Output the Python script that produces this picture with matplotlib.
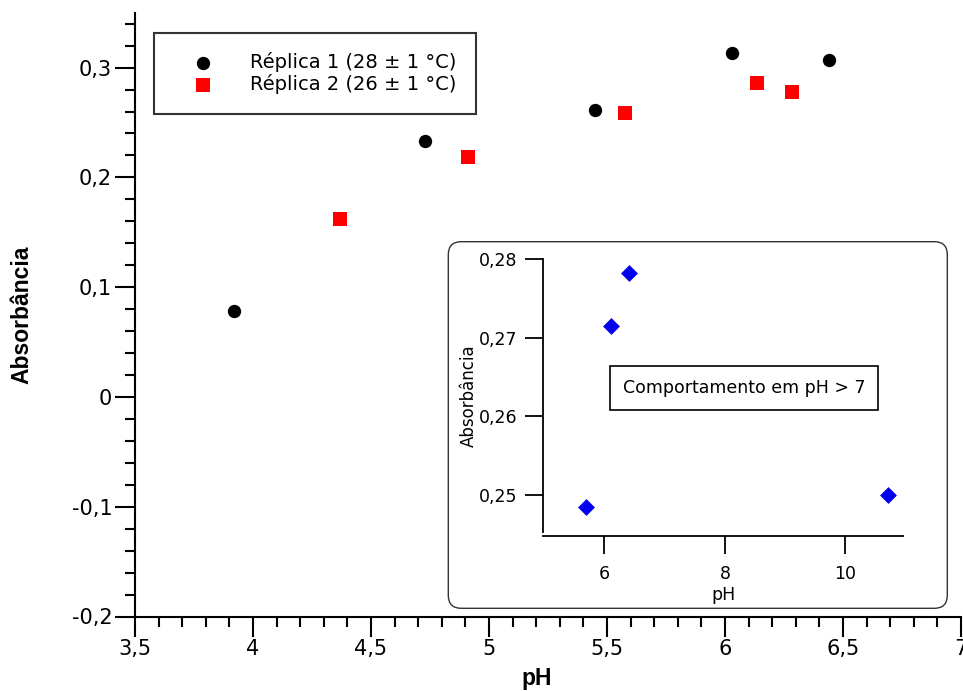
import matplotlib
matplotlib.use('Agg')
import matplotlib.pyplot as plt
from matplotlib.ticker import MultipleLocator, FuncFormatter
from matplotlib.patches import FancyBboxPatch

# main chart data
ph_rep1 = [3.919, 4.729, 5.449, 6.030, 6.441]
abs_rep1 = [0.078, 0.2334, 0.2615, 0.3134, 0.307]
ph_rep2 = [4.369, 4.911, 5.576, 6.136, 6.284]
abs_rep2 = [0.1625, 0.2188, 0.2588, 0.2861, 0.278]
label_rep1 = 'Réplica 1 (28 ± 1 °C)'
label_rep2 = 'Réplica 2 (26 ± 1 °C)'

# inset data (pH > 7)
ph_inset = [5.70, 6.105, 6.41, 10.71]
abs_inset = [0.2485, 0.2715, 0.2782, 0.2500]
inset_note = 'Comportamento em pH > 7'


def comma_fmt(v, pos):
    s = f'{round(v, 4):g}'
    return s.replace('.', ',')


plt.rcParams['font.family'] = ['DejaVu Sans']
bold_family = ['Liberation Sans', 'DejaVu Sans']

fig = plt.figure(figsize=(9.63, 6.91), dpi=100)

# main axes
ax = fig.add_axes([135 / 963, 1 - 616.5 / 691, 826 / 963, (616.5 - 12.7) / 691])
ax.scatter(ph_rep1, abs_rep1, s=9.6 ** 2, marker='o', color='black',
           label=label_rep1, zorder=3, linewidths=0)
ax.scatter(ph_rep2, abs_rep2, s=10.3 ** 2, marker='s', color='#ff0000',
           label=label_rep2, zorder=3, linewidths=0)
ax.set_xlim(3.5, 7.0)
ax.set_ylim(-0.2, 0.35)
for side in ['top', 'right']:
    ax.spines[side].set_visible(False)
for side in ['left', 'bottom']:
    ax.spines[side].set_linewidth(1.5)
ax.xaxis.set_major_locator(MultipleLocator(0.5))
ax.xaxis.set_minor_locator(MultipleLocator(0.1))
ax.yaxis.set_major_locator(MultipleLocator(0.1))
ax.yaxis.set_minor_locator(MultipleLocator(0.02))
ax.xaxis.set_major_formatter(FuncFormatter(comma_fmt))
ax.yaxis.set_major_formatter(FuncFormatter(comma_fmt))
ax.tick_params(which='major', length=14.4, width=1.5, labelsize=15, pad=2)
ax.tick_params(which='minor', length=7.2, width=1.5)
ax.patch.set_alpha(0)

leg = ax.legend(loc='upper left', bbox_to_anchor=(154 / 963, 1 - 33 / 691),
                bbox_transform=fig.transFigure, fontsize=14, frameon=True,
                fancybox=False, edgecolor='black', borderpad=1.0,
                handlelength=3.0, handletextpad=0.95, labelspacing=0.1,
                borderaxespad=0)
leg.get_frame().set_linewidth(1.5)

fig.text(22 / 963, 1 - 315 / 691, 'Absorbância', rotation=90, ha='center',
         va='center', fontsize=16.5, fontweight='bold', family=bold_family)
fig.text(537 / 963, 1 - 678 / 691, 'pH', ha='center', va='center',
         fontsize=16.5, fontweight='bold', family=bold_family)

# rounded box around inset
box = FancyBboxPatch((448.3 / 100, (691 - 608.3) / 100), 499 / 100, 366.6 / 100,
                     boxstyle='round,pad=0,rounding_size=0.13',
                     transform=fig.dpi_scale_trans, facecolor='white',
                     edgecolor='#333333', linewidth=1.0, zorder=5)
fig.add_artist(box)

# inset axes
ins = fig.add_axes([542.7 / 963, 1 - 531.7 / 691, 360.6 / 963, (531.7 - 259) / 691])
ins.set_zorder(6)
ins.patch.set_alpha(0)
ins.scatter(ph_inset, abs_inset, s=8.6 ** 2, marker='D', color='#0000ee',
            linewidths=0, zorder=3)
ins.set_xlim(4.977, 10.96)
ins.set_ylim(0.2453, 0.28)
for side in ['top', 'right']:
    ins.spines[side].set_visible(False)
for side in ['left', 'bottom']:
    ins.spines[side].set_linewidth(1.3)
ins.spines['bottom'].set_position(('outward', 3))
ins.set_xticks([6, 8, 10])
ins.set_yticks([0.25, 0.26, 0.27, 0.28])
ins.xaxis.set_major_formatter(FuncFormatter(comma_fmt))
ins.yaxis.set_major_formatter(FuncFormatter(comma_fmt))
ins.tick_params(length=13, width=1.3, labelsize=12.5, pad=5)
ins.tick_params(axis='x', pad=8)
ins.set_xlabel('pH', fontsize=12.5, labelpad=2)
ins.set_ylabel('Absorbância', fontsize=12, labelpad=1)
ins.text(8.32, 0.2636, inset_note, ha='center', va='center', fontsize=12.5,
         bbox=dict(boxstyle='square,pad=0.75', facecolor='white',
                   edgecolor='black', linewidth=1.2))

fig.savefig('out.png', dpi=100)
